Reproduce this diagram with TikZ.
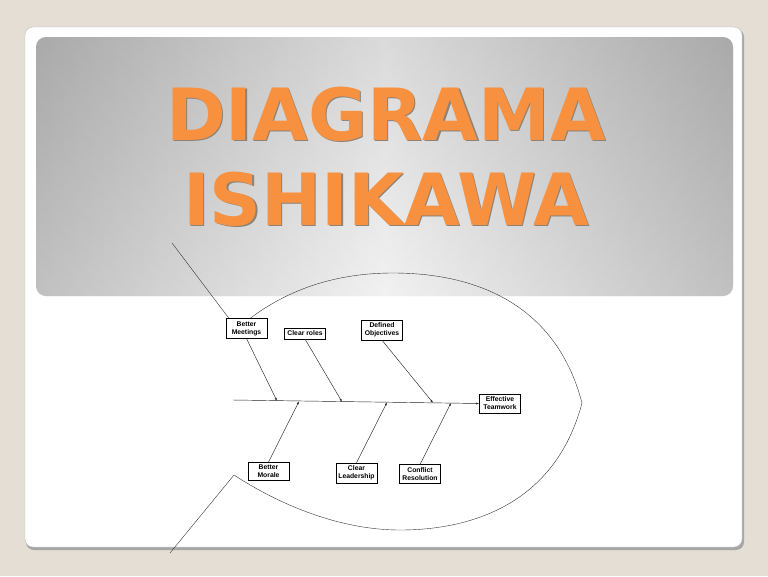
\documentclass[tikz,border=0pt]{standalone}
\usepackage{fontspec}
\usepackage{tikz}
\usetikzlibrary{arrows.meta}
\newfontfamily\titlefont{DejaVu Sans}
\setsansfont{Liberation Sans}
\definecolor{slidebg}{HTML}{E4DED4}
\definecolor{bannergray}{HTML}{A6A6A6}
\definecolor{bannerlight}{HTML}{ECECEC}
\definecolor{titleorange}{HTML}{F8913F}
\definecolor{titleshade}{HTML}{8C8276}
\newcommand{\shadowed}[1]{\makebox[0pt][l]{\hspace{1.2pt}\raisebox{-1.8pt}{\color{titleshade}#1}}#1}

\begin{document}
\begin{tikzpicture}[x=1pt,y=-1pt]
\tikzstyle{cause}=[draw=black,fill=white,line width=0.5pt,inner xsep=1pt,inner ysep=2.8pt,minimum width=41pt,align=center,font=\sffamily\bfseries\fontsize{6.8}{8}\selectfont]
\tikzstyle{bone}=[black!85,line width=0.45pt,-{Latex[length=3pt,width=2pt]}]
\tikzstyle{title}=[inner sep=0pt,anchor=base,text=titleorange,font=\titlefont\bfseries\fontsize{72}{72}\selectfont]
\useasboundingbox (0,0) rectangle (768,576);
\fill [slidebg] (0,0) rectangle (768,576);
\fill [black!35,rounded corners=8pt] (26,29) rectangle (744,550);
\filldraw [white,draw=black!25,rounded corners=8pt] (25,27) rectangle (742,547);
\shade [rounded corners=10pt,left color=bannergray,right color=bannergray,middle color=bannerlight] (36,37) rectangle (733,296);
\shade [rounded corners=10pt,top color=black!30,bottom color=white,opacity=0.3] (36,37) rectangle (733,296);
\node [title] (t1) at (386,140) {\shadowed{DIAGRAMA}};
\node [title] (t2) at (386,225) {\shadowed{ISHIKAWA}};
\draw [black!80,line width=0.4pt] (172,243) -- (237,329) .. controls (285,287) and (340,273) .. (393,273)
  .. controls (470,273) and (555,300) .. (582,403)
  .. controls (555,505) and (470,530) .. (400,530)
  .. controls (340,530) and (280,505) .. (234,475) -- (170,553);
\node [cause] (meet) at (246.5,328.5) {Better\\Meetings};
\node [cause] (roles) at (305,333.5) {Clear roles};
\node [cause] (obj) at (382,330) {Defined\\Objectives};
\node [cause] (team) at (500,403.5) {Effective\\Teamwork};
\node [cause] (morale) at (268.5,471.5) {Better\\Morale};
\node [cause] (lead) at (356.5,473) {Clear\\Leadership};
\node [cause] (confl) at (420,474) {Conflict\\Resolution};
\coordinate (tail) at (233,400);
\coordinate (s1) at (277,401);
\coordinate (s2) at (299,401.3);
\coordinate (s3) at (342,401.8);
\coordinate (s4) at (387,402.3);
\coordinate (s5) at (433,402.8);
\coordinate (s6) at (451,403);
\draw [bone] (tail) -- (team.west);
\draw [bone] (meet.south) -- (s1);
\draw [bone] (roles.south) -- (s3);
\draw [bone] (obj.south) -- (s5);
\draw [bone] (morale.north) -- (s2);
\draw [bone] (lead.north) -- (s4);
\draw [bone] (confl.north) -- (s6);
\end{tikzpicture}
\end{document}
